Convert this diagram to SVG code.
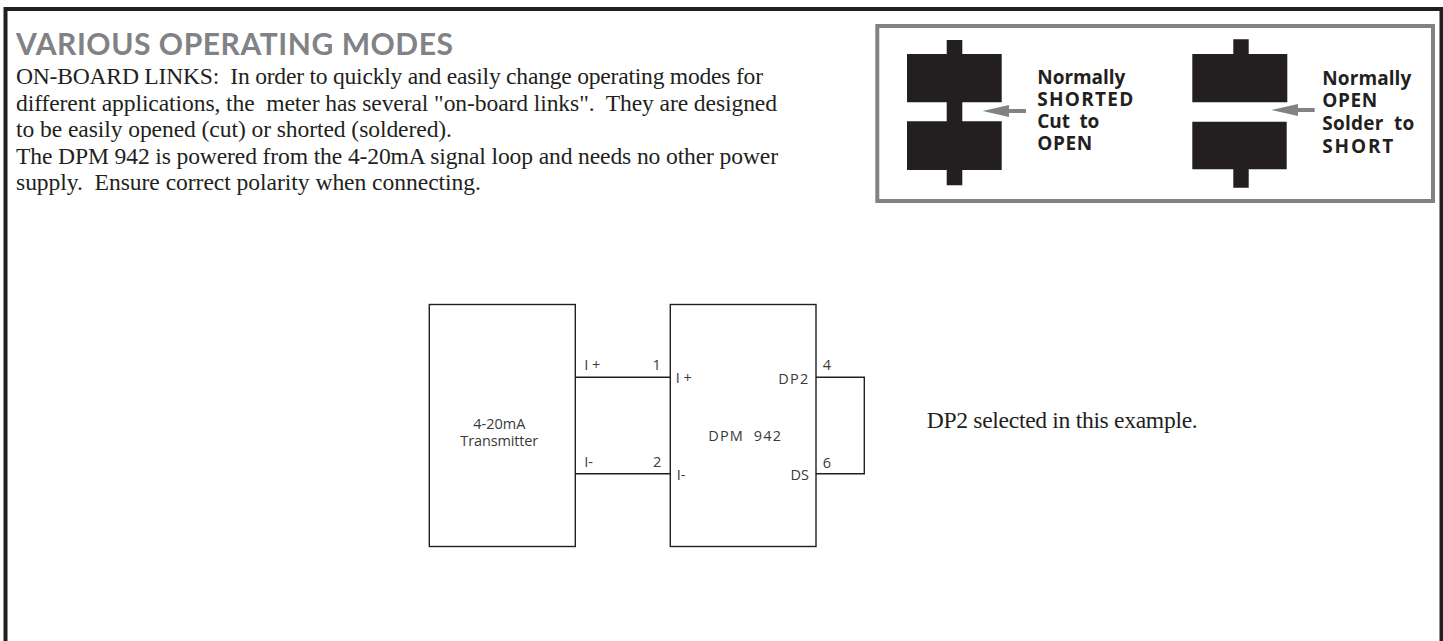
<svg xmlns="http://www.w3.org/2000/svg" width="1443" height="641" viewBox="0 0 1443 641">
<style>
text{white-space:pre;fill:#231f20}
.h{font:700 30px Lato,"Liberation Sans",sans-serif;fill:#808285}
.b{font:23.6px "Liberation Serif",serif}
.l{font:700 19px "Open Sans","Liberation Sans",sans-serif}
.s{font:400 14.5px "Open Sans","Liberation Sans",sans-serif;fill:#3a3a3a}
.blk{fill:#231f20}
.arr{fill:#808285}
.box{fill:#fff;stroke:#231f20;stroke-width:1.4}
.w{fill:none;stroke:#231f20;stroke-width:1.4}
</style>
<rect width="1443" height="641" fill="#fff"/>
<path id="frame" d="M5.5 641V9H1441.5V641" fill="none" stroke="#231f20" stroke-width="4"/>
<g id="title">
<text class="h" x="16" y="55" textLength="437" lengthAdjust="spacing">VARIOUS OPERATING MODES</text>
<text class="b" x="16" y="84" textLength="747" lengthAdjust="spacing">ON-BOARD LINKS:  In order to quickly and easily change operating modes for</text>
<text class="b" x="16" y="110.5" textLength="761" lengthAdjust="spacing">different applications, the  meter has several "on-board links".  They are designed</text>
<text class="b" x="16" y="137" textLength="436" lengthAdjust="spacing">to be easily opened (cut) or shorted (soldered).</text>
<text class="b" x="16" y="163.5" textLength="762" lengthAdjust="spacing">The DPM 942 is powered from the 4-20mA signal loop and needs no other power</text>
<text class="b" x="16" y="190" textLength="465" lengthAdjust="spacing">supply.  Ensure correct polarity when connecting.</text>
</g>
<g id="legend">
<rect x="877.3" y="26" width="555.7" height="175" fill="none" stroke="#808285" stroke-width="4"/>
<g id="link-shorted">
<path class="blk" d="M946.7 40H962.3V54H1001.7V102.3H962.3V121.3H1001.7V170H962.3V185.3H946.7V170H907V121.3H946.7V102.3H907V54H946.7Z"/>
<path class="arr" d="M982.7 111L1009 105V109H1026V113H1009V117Z"/>
<text class="l" x="1037.3" y="83.5" textLength="88" lengthAdjust="spacing">Normally</text>
<text class="l" x="1037.3" y="106" textLength="96" lengthAdjust="spacing">SHORTED</text>
<text class="l" x="1037.3" y="128" textLength="62" lengthAdjust="spacing">Cut  to</text>
<text class="l" x="1037.3" y="150" textLength="55" lengthAdjust="spacing">OPEN</text>
</g>
<g id="link-open">
<path class="blk" d="M1233.3 39.3H1248.7V54H1287.3V102.3H1192.3V54H1233.3Z"/>
<path class="blk" d="M1192.3 121.7H1286.7V169.3H1248.7V187.7H1233.3V169.3H1192.3Z"/>
<path class="arr" d="M1271.3 110L1298 104V108H1314.7V112H1298V116Z"/>
<text class="l" x="1322.3" y="85" textLength="89" lengthAdjust="spacing">Normally</text>
<text class="l" x="1322.3" y="107" textLength="55" lengthAdjust="spacing">OPEN</text>
<text class="l" x="1322.3" y="130" textLength="92" lengthAdjust="spacing">Solder  to</text>
<text class="l" x="1322.3" y="152.5" textLength="71" lengthAdjust="spacing">SHORT</text>
</g>
</g>
<g id="connectors">
<path class="w" d="M575.3 377.3H670.3"/>
<path class="w" d="M575.3 473.7H671.5"/>
<path class="w" d="M816 377.3H864.3V473.7H816"/>
</g>
<g id="transmitter">
<rect class="box" x="429.3" y="304.5" width="146" height="242"/>
<text class="s" x="499.3" y="429.3" text-anchor="middle">4-20mA</text>
<text class="s" x="499.3" y="445.7" text-anchor="middle" textLength="78" lengthAdjust="spacing">Transmitter</text>
<text class="s" x="584.3" y="370" textLength="16" lengthAdjust="spacing">I+</text>
<text class="s" x="584.3" y="466.7">I-</text>
</g>
<g id="dpm942">
<rect class="box" x="670.3" y="304.5" width="145.7" height="242"/>
<text class="s" x="708.3" y="440.7" textLength="72.7" lengthAdjust="spacing">DPM  942</text>
<text class="s" x="660.7" y="370" text-anchor="end">1</text>
<text class="s" x="661.3" y="466.7" text-anchor="end">2</text>
<text class="s" x="675.7" y="382.7" textLength="16" lengthAdjust="spacing">I+</text>
<text class="s" x="676.7" y="480.3">I-</text>
<text class="s" x="778.3" y="384" textLength="30" lengthAdjust="spacing">DP2</text>
<text class="s" x="809" y="480.3" text-anchor="end">DS</text>
<text class="s" x="822.7" y="370">4</text>
<text class="s" x="822.7" y="467.7">6</text>
</g>
<text id="note" class="b" x="926.7" y="428.3" textLength="271" lengthAdjust="spacing">DP2 selected in this example.</text>
</svg>
